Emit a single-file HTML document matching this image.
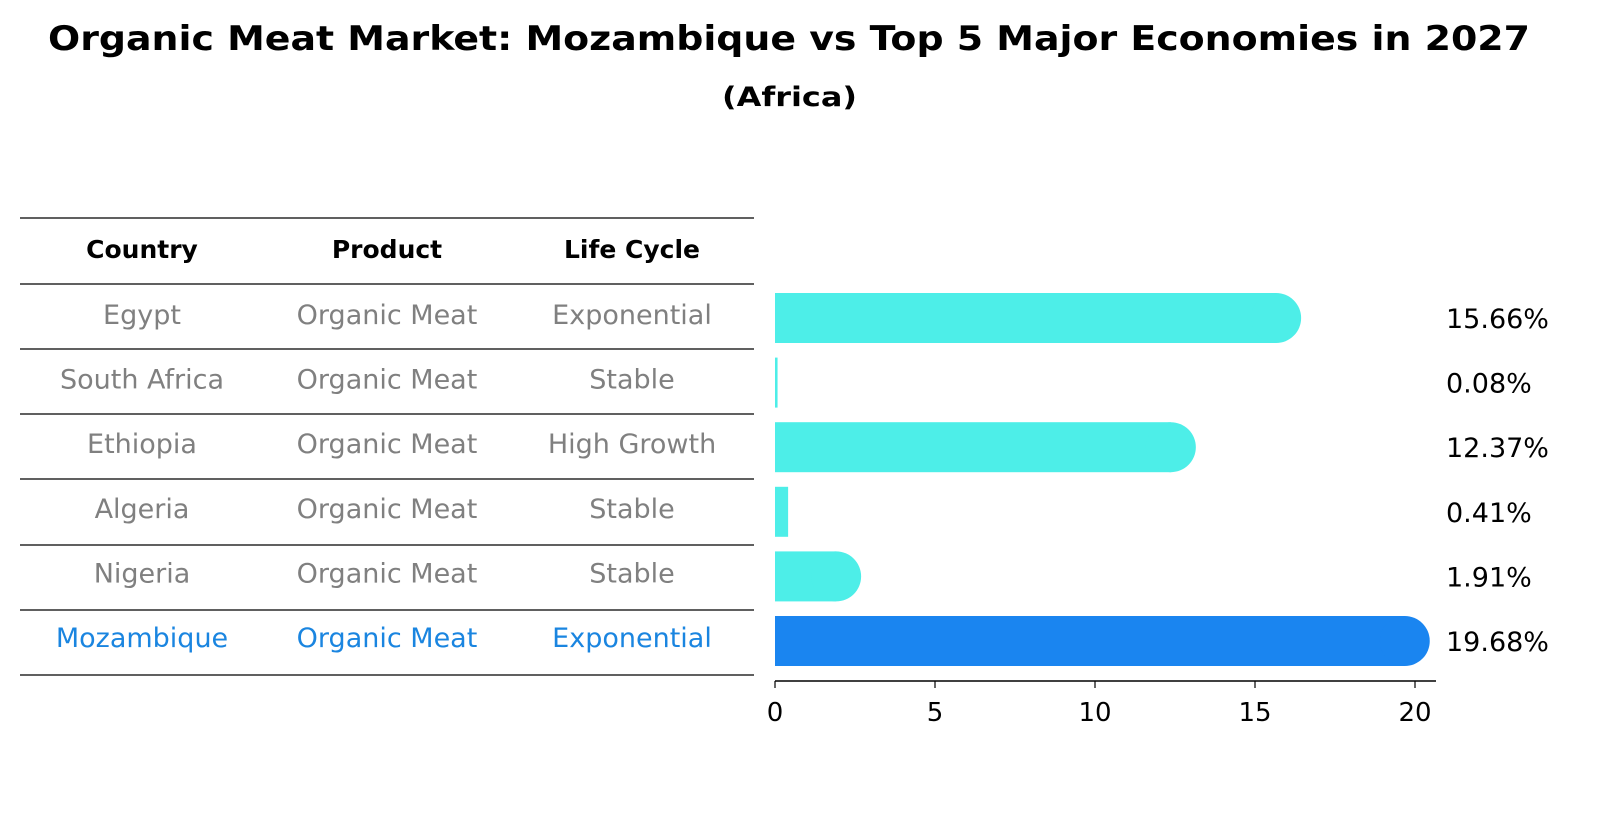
<!DOCTYPE html>
<html><head><meta charset="utf-8"><style>
body{margin:0;background:#fff;font-family:"Liberation Sans","DejaVu Sans",sans-serif;}
</style></head><body>
<svg width="1604" height="823" xmlns="http://www.w3.org/2000/svg" font-family="DejaVu Sans, Liberation Sans, sans-serif">
<text x="48" y="50" font-size="34" font-weight="bold" textLength="1482" lengthAdjust="spacingAndGlyphs">Organic Meat Market: Mozambique vs Top 5 Major Economies in 2027</text>
<text x="722" y="106" font-size="27" font-weight="bold" textLength="135" lengthAdjust="spacingAndGlyphs">(Africa)</text>
<g id="table"></g>
<g id="bars"></g>
<g id="axis"></g>
</svg>
<script>
const countries=["Egypt","South Africa","Ethiopia","Algeria","Nigeria","Mozambique"];
const products=["Organic Meat","Organic Meat","Organic Meat","Organic Meat","Organic Meat","Organic Meat"];
const lifecycles=["Exponential","Stable","High Growth","Stable","Stable","Exponential"];
const values=[15.66,0.08,12.37,0.41,1.91,19.68];
const ticks=[0,5,10,15,20];
const NS="http://www.w3.org/2000/svg";
function mk(t,a,p){const e=document.createElementNS(NS,t);for(const k in a)e.setAttribute(k,a[k]);p.appendChild(e);return e;}
const x=v=>775+v*32;
const rowY=i=>316+i*64.6;
const tbl=document.getElementById('table');
const lines=[218,284,349,414,479,545,610,675];
lines.forEach(y=>{const l=mk('line',{x1:20,x2:754,y1:y,y2:y,stroke:'#000','stroke-width':1.2},tbl);

});
const colX=[142,387,632];
["Country","Product","Life Cycle"].forEach((h,j)=>{const t=mk('text',{x:colX[j],y:258,'text-anchor':'middle','font-size':25,'font-weight':'bold'},tbl);t.textContent=h;

});
countries.forEach((c,i)=>{
 const col=c==="Mozambique"?"#1a85e0":"#808080";
 [c,products[i],lifecycles[i]].forEach((s,j)=>{const t=mk('text',{x:colX[j],y:rowY(i)+8,'text-anchor':'middle','font-size':27,fill:col},tbl);t.textContent=s;
 
 });
});
const bars=document.getElementById('bars');
values.forEach((v,i)=>{
 const col=countries[i]==="Mozambique"?"#1a85f0":"#4deee8";
 const cy=rowY(i)+2,h=50;
 const g=mk('g',{},bars);
 
 
 mk('rect',{x:x(0),y:cy-h/2,width:Math.max(x(v)-x(0),2),height:h,fill:col},g);
 if(v>1)mk('circle',{cx:x(v),cy:cy,r:25,fill:col},g);
 const t=mk('text',{x:1446,y:cy+10,'font-size':27},bars);t.textContent=v.toFixed(2)+'%';
 
 
});
const ax=document.getElementById('axis');
mk('line',{x1:775,x2:1436,y1:681,y2:681,stroke:'#000','stroke-width':1.5},ax);
ticks.forEach(tk=>{mk('line',{x1:x(tk),x2:x(tk),y1:681,y2:688,stroke:'#000','stroke-width':1.2},ax);
 const t=mk('text',{x:x(tk),y:721,'text-anchor':'middle','font-size':26},ax);t.textContent=tk;
 
 });
</script>
</body></html>
